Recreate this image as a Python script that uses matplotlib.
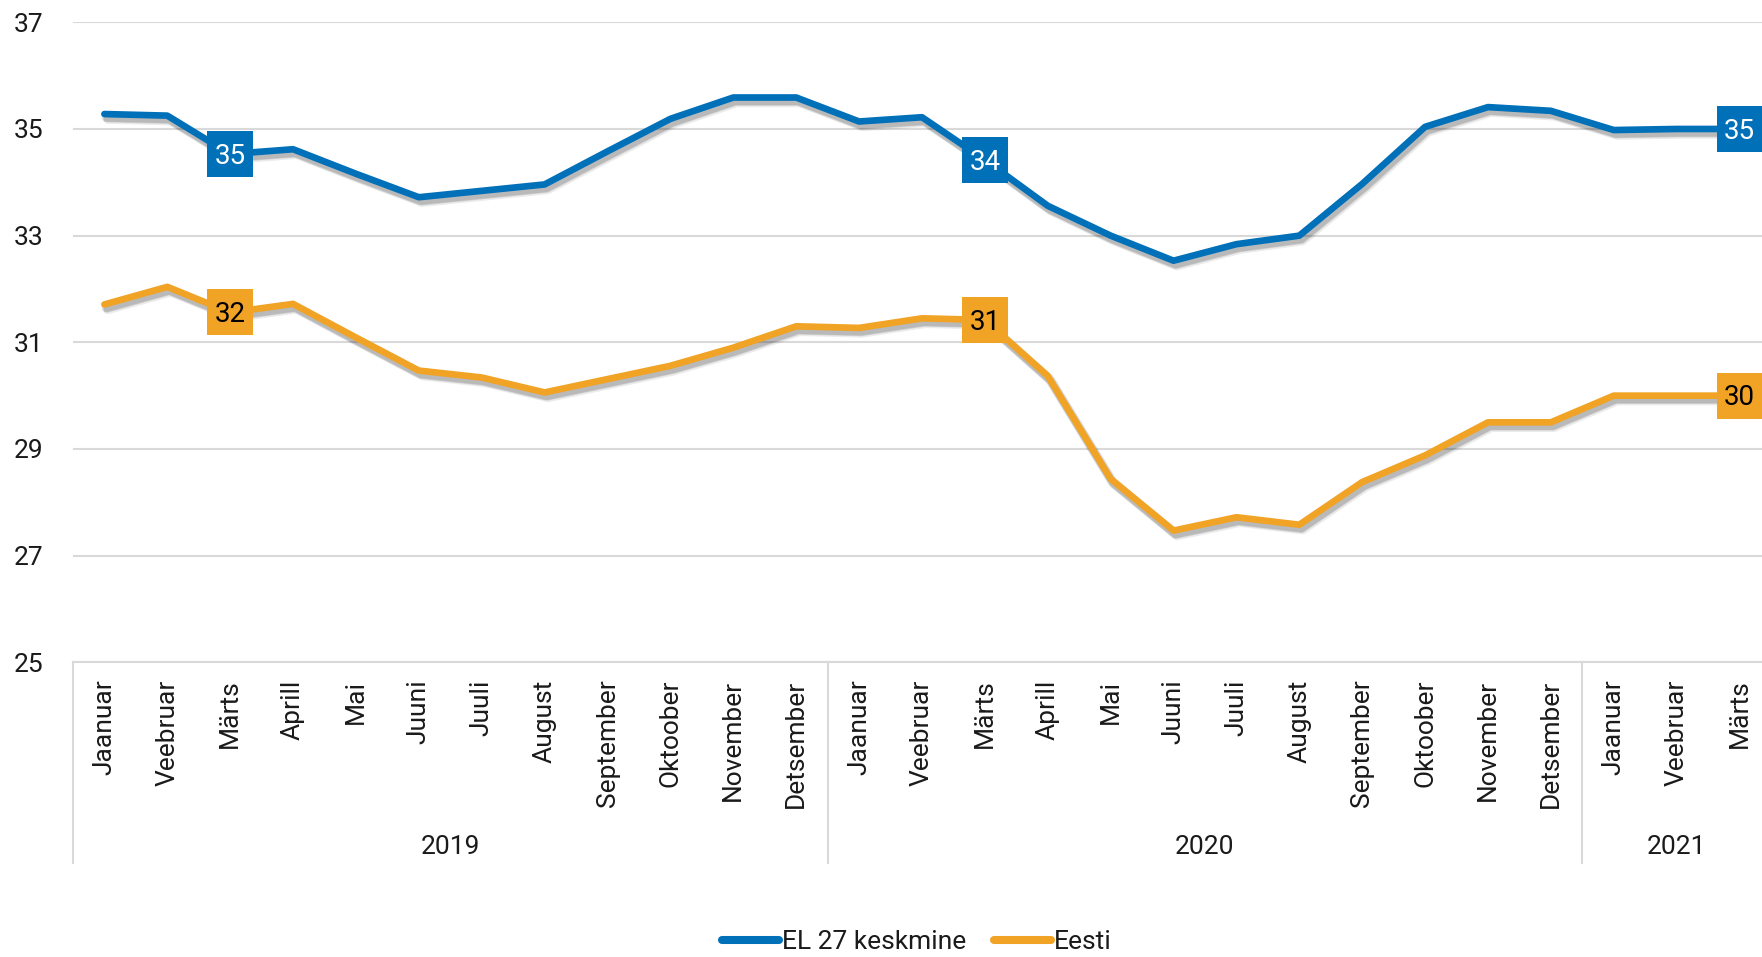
import matplotlib
matplotlib.use("Agg")
import matplotlib.pyplot as plt
import matplotlib.transforms as mtransforms
from matplotlib import patheffects as pe
from matplotlib.lines import Line2D

# ---- data ----
months = ["Jaanuar", "Veebruar", "Märts", "Aprill", "Mai", "Juuni", "Juuli",
          "August", "September", "Oktoober", "November", "Detsember"]
month_labels = months + months + months[:3]
years = ["2019", "2020", "2021"]
year_len = [12, 12, 3]

eu27 = [35.28, 35.25, 34.53, 34.62, 34.16, 33.72, 33.84, 33.96, 34.58, 35.19, 35.59, 35.59,
        35.14, 35.22, 34.42, 33.56, 33.00, 32.53, 32.84, 33.00, 33.97, 35.04, 35.41, 35.34,
        34.98, 35.00, 35.00]
eesti = [31.71, 32.04, 31.56, 31.72, 31.09, 30.47, 30.34, 30.06, 30.31, 30.56, 30.90, 31.30,
         31.27, 31.45, 31.42, 30.37, 28.44, 27.47, 27.72, 27.58, 28.38, 28.88, 29.50, 29.50,
         30.00, 30.00, 30.00]
label_idx = [2, 14, 26]   # Märts each year gets a value box

series_names = ["EL 27 keskmine", "Eesti"]
BLUE = "#0070B9"
ORANGE = "#F0A324"
GRID = "#D9D9D9"
TXT = "#1A1A1A"

plt.rcParams["font.family"] = ["Roboto", "DejaVu Sans"]
FS = 19

fig = plt.figure(figsize=(17.62, 9.57), dpi=100)
ax = fig.add_axes([0.0414, 0.3079, 0.9637, 0.6688])

x = list(range(len(month_labels)))
# soft drop shadow: a few stacked faint offsets
shadow = [pe.SimpleLineShadow(offset=(1.5, -2.5), shadow_color="k", alpha=0.10, linewidth=7),
          pe.SimpleLineShadow(offset=(2.5, -4.0), shadow_color="k", alpha=0.08, linewidth=6),
          pe.SimpleLineShadow(offset=(1.5, -3.0), shadow_color="k", alpha=0.12, linewidth=5),
          pe.Normal()]

for vals, col in ((eu27, BLUE), (eesti, ORANGE)):
    ax.plot(x, vals, color=col, lw=4.8, solid_capstyle="round", solid_joinstyle="round",
            path_effects=shadow, zorder=3)

# value boxes
for vals, col, tcol in ((eu27, BLUE, "white"), (eesti, ORANGE, "black")):
    for i in label_idx:
        ax.plot(x[i], vals[i], marker="s", ms=32.5, mew=0, color=col, zorder=4, clip_on=False)
        ax.text(x[i], vals[i] - 0.04, f"{vals[i]:.0f}", color=tcol, fontsize=FS + 1,
                ha="center", va="center", zorder=5, clip_on=False)

ax.set_xlim(-0.5, len(x) - 0.5)
ax.set_ylim(25, 37)
ax.set_yticks(range(25, 38, 2))
ax.tick_params(axis="y", length=0, pad=21, labelsize=FS, labelcolor=TXT)
ax.set_xticks([])
ax.grid(axis="y", color=GRID, lw=1.5)
ax.set_axisbelow(True)
for sp in ("top", "right", "left"):
    ax.spines[sp].set_visible(False)
ax.spines["bottom"].set_color(GRID)
ax.spines["bottom"].set_linewidth(1.5)

# month labels + year groups under the axis
trans = mtransforms.blended_transform_factory(ax.transData, ax.transAxes)
for i, lab in enumerate(month_labels):
    ax.text(i, -0.027, lab, rotation=90, ha="center", va="top", fontsize=FS,
            color=TXT, transform=trans)

start = 0
bounds = [-0.5]
for yr, n in zip(years, year_len):
    ax.text(start + (n - 1) / 2, -0.289, yr, ha="center", va="center", fontsize=FS,
            color=TXT, transform=trans)
    start += n
    bounds.append(start - 0.5)
for b in bounds[:-1]:
    ax.plot([b, b], [0, -0.3136], color=GRID, lw=1.5, transform=trans, clip_on=False)

handles = [Line2D([], [], color=BLUE, lw=5.8, solid_capstyle="round"),
           Line2D([], [], color=ORANGE, lw=5.8, solid_capstyle="round")]
fig.legend(handles, series_names, loc="center", bbox_to_anchor=(0.5204, 0.0152), ncol=2,
           frameon=False, fontsize=FS, handlelength=2.16, handletextpad=0.12,
           columnspacing=1.06, labelcolor=TXT)

fig.savefig("out.png", dpi=100)
